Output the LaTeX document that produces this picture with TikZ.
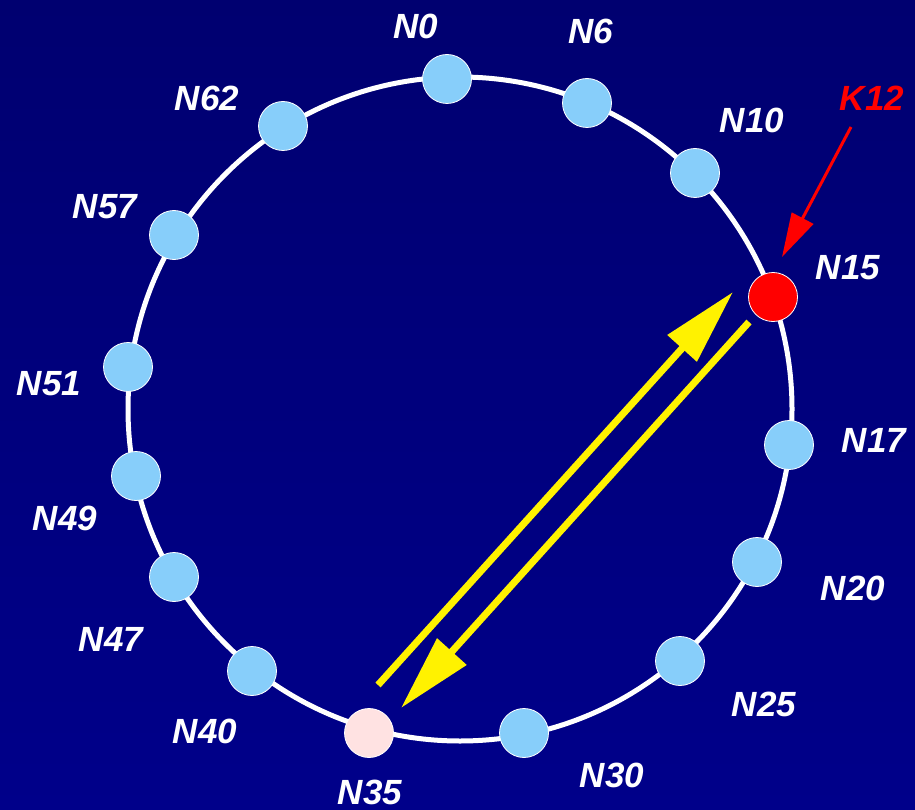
\documentclass[tikz,border=0pt]{standalone}
\usepackage{fontspec}
\setmainfont{Liberation Sans}
\usetikzlibrary{arrows.meta}
\definecolor{bgtop}{RGB}{0,0,112}
\definecolor{bgbot}{RGB}{0,0,138}
\definecolor{nodeblue}{RGB}{135,206,250}
\definecolor{pinkn}{RGB}{255,226,226}
\begin{document}
\begin{tikzpicture}[x=1pt,y=-1pt,
  peer/.style={circle,draw=white,line width=0.8pt,fill=nodeblue,minimum size=49pt,inner sep=0pt},
  lbl/.style={text=white,font=\fontsize{35}{40}\selectfont\bfseries\itshape,inner sep=0pt},
  ring/.style={draw=white,line width=5pt},
  msg/.style={draw=yellow,line width=7pt,-{Triangle[length=76pt,width=38pt]}},
  keyarrow/.style={draw=red,line width=3pt,-{Triangle[length=44pt,width=24pt]}}]
\shade[top color=bgtop,bottom color=bgbot] (0,0) rectangle (915,810);
\useasboundingbox (0,0) rectangle (915,810);
\draw[ring] (460,409) circle[radius=332pt];
% peers
\node[peer] (n0)  at (447,79)  {};
\node[peer] (n6)  at (587,103) {};
\node[peer] (n10) at (695,173) {};
\node[peer,fill=red] (n15) at (773,297) {};
\node[peer] (n17) at (789,445) {};
\node[peer] (n20) at (757,562) {};
\node[peer] (n25) at (680,661) {};
\node[peer] (n30) at (524,733) {};
\node[peer,fill=pinkn] (n35) at (369,733) {};
\node[peer] (n40) at (252,671) {};
\node[peer] (n47) at (174,577) {};
\node[peer] (n49) at (136,476) {};
\node[peer] (n51) at (128,367) {};
\node[peer] (n57) at (174,235) {};
\node[peer] (n62) at (283,126) {};
% labels
\node[lbl] (l0)  at (416,26)  {N0};
\node[lbl] (l6)  at (591,31)  {N6};
\node[lbl] (l10) at (752,120) {N10};
\node[lbl] (l15) at (848,268) {N15};
\node[lbl] (l17) at (874,440) {N17};
\node[lbl] (l20) at (853,588) {N20};
\node[lbl] (l25) at (764,704) {N25};
\node[lbl] (l30) at (612,775) {N30};
\node[lbl] (l35) at (370,792) {N35};
\node[lbl] (l40) at (205,731) {N40};
\node[lbl] (l47) at (111,639) {N47};
\node[lbl] (l49) at (65,518)  {N49};
\node[lbl] (l51) at (49,384)  {N51};
\node[lbl] (l57) at (105,207) {N57};
\node[lbl] (l62) at (207,98)  {N62};
\node[lbl,text=red] (k12) at (872,98) {K12};
% arrows
\coordinate (ks) at (851,127);
\coordinate (kt) at (782,257);
\draw[keyarrow] (ks) -- (kt);
\coordinate (qs) at (378,685);
\coordinate (qt) at (733,292);
\draw[msg] (qs) -- (qt);
\coordinate (rs) at (749,322);
\coordinate (rt) at (401,708);
\draw[msg] (rs) -- (rt);
\end{tikzpicture}
\end{document}
